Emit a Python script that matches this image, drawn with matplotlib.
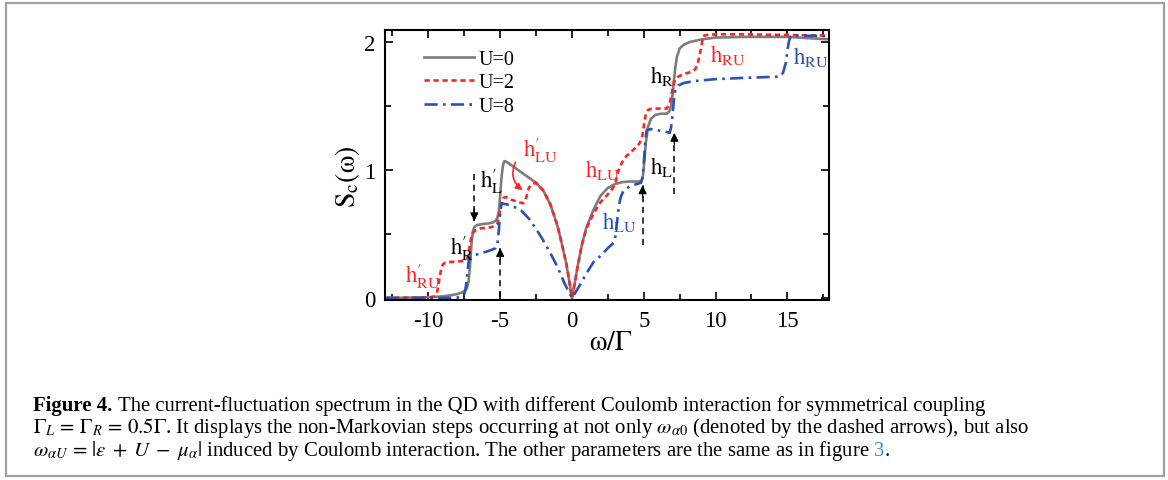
import matplotlib
matplotlib.use('Agg')
import matplotlib.pyplot as plt
from matplotlib.patches import Rectangle
from matplotlib.ticker import MultipleLocator

plt.rcParams['font.family'] = 'serif'
plt.rcParams['font.serif'] = ['Liberation Serif', 'DejaVu Serif']
plt.rcParams['mathtext.fontset'] = 'stix'
plt.rcParams['axes.unicode_minus'] = False

# ---------------- data ----------------
omega_u0 = [-13, -11, -10, -9, -8.5, -8, -7.6, -7.4, -7.3, -7.2, -7.1, -7.0, -6.9, -6.8,
            -6.6, -6.2, -5.8, -5.5, -5.3, -5.2, -5.1, -5.0, -4.9, -4.8, -4.7, -4.5, -4.0,
            -3.5, -3.0, -2.5, -2.0, -1.5, -1.0, -0.7, -0.4, -0.2, 0.0, 0.2, 0.4, 0.7, 1.0,
            1.5, 2.0, 2.5, 3.0, 3.5, 4.0, 4.5, 4.7, 4.85, 4.95, 5.05, 5.15, 5.3, 5.5, 5.8,
            6.2, 6.6, 6.8, 6.9, 7.0, 7.1, 7.2, 7.3, 7.5, 7.8, 8.2, 9, 10, 12, 15, 18]
s_u0 = [0.0, 0.003, 0.006, 0.012, 0.02, 0.03, 0.045, 0.06, 0.08, 0.13, 0.25, 0.42, 0.52, 0.555,
        0.57, 0.578, 0.582, 0.59, 0.605, 0.625, 0.67, 0.80, 0.95, 1.04, 1.07, 1.06, 1.02,
        0.98, 0.94, 0.90, 0.84, 0.73, 0.56, 0.42, 0.27, 0.14, 0.0, 0.12, 0.25, 0.42, 0.55,
        0.69, 0.80, 0.86, 0.89, 0.905, 0.91, 0.91, 0.91, 0.92, 0.96, 1.08, 1.22, 1.34, 1.40, 1.43,
        1.44, 1.44, 1.46, 1.50, 1.58, 1.70, 1.80, 1.88, 1.95, 1.98, 2.00, 2.02, 2.035, 2.04, 2.04, 2.02]

omega_u2 = [-13, -10, -9.6, -9.4, -9.3, -9.2, -9.1, -9.0, -8.85, -8.6, -8.0, -7.5, -7.3, -7.2,
            -7.1, -7.0, -6.9, -6.7, -6.3, -5.8, -5.4, -5.2, -5.1, -5.0, -4.9, -4.8, -4.6, -4.3,
            -4.0, -3.6, -3.4, -3.3, -3.2, -3.1, -3.0, -2.8, -2.5, -2.0, -1.5, -1.0, -0.7, -0.4,
            -0.2, 0.0, 0.2, 0.4, 0.7, 1.0, 1.5, 2.0, 2.5, 2.8, 3.0, 3.1, 3.2, 3.35, 3.6, 3.8,
            4.2, 4.6, 4.85, 4.95, 5.05, 5.15, 5.3, 5.6, 6.2, 6.6, 6.8, 6.9, 7.0, 7.1, 7.2, 7.4,
            7.8, 8.4, 8.6, 8.75, 8.9, 9.0, 9.1, 9.2, 9.4, 10, 12, 15, 18]
s_u2 = [0.0, 0.003, 0.01, 0.04, 0.10, 0.17, 0.23, 0.26, 0.275, 0.28, 0.285, 0.29, 0.30, 0.35,
        0.42, 0.48, 0.51, 0.53, 0.545, 0.55, 0.56, 0.58, 0.62, 0.69, 0.75, 0.78, 0.79, 0.77,
        0.76, 0.745, 0.74, 0.75, 0.78, 0.82, 0.86, 0.89, 0.90, 0.84, 0.73, 0.56, 0.42, 0.27,
        0.14, 0.0, 0.12, 0.25, 0.42, 0.54, 0.66, 0.75, 0.81, 0.85, 0.89, 0.93, 0.98, 1.03, 1.08, 1.11,
        1.15, 1.19, 1.24, 1.30, 1.38, 1.44, 1.47, 1.48, 1.48, 1.48, 1.52, 1.57, 1.63, 1.68, 1.71, 1.73,
        1.75, 1.77, 1.79, 1.83, 1.90, 1.96, 2.02, 2.05, 2.055, 2.06, 2.06, 2.055, 2.05]

omega_u8 = [-13, -8.5, -8.0, -7.7, -7.5, -7.4, -7.3, -7.2, -7.1, -6.5, -6.0, -5.5, -5.3, -5.2,
            -5.1, -5.0, -4.9, -4.5, -4.0, -3.5, -3.0, -2.5, -2.0, -1.5, -1.0, -0.5, 0.0, 0.5,
            1.0, 1.5, 2.0, 2.5, 2.9, 3.0, 3.1, 3.2, 3.3, 3.4, 3.6, 4.0, 4.5, 4.8, 4.9, 5.0,
            5.1, 5.2, 5.5, 6.0, 6.5, 6.8, 6.9, 7.0, 7.1, 7.2, 7.4, 7.8, 8.5, 10, 12, 14.5,
            14.7, 14.9, 15.0, 15.1, 15.2, 15.4, 16, 18]
s_u8 = [0.0, 0.0, 0.003, 0.01, 0.03, 0.08, 0.18, 0.28, 0.32, 0.345, 0.36, 0.38, 0.39, 0.41,
        0.52, 0.66, 0.74, 0.73, 0.71, 0.68, 0.62, 0.54, 0.45, 0.35, 0.24, 0.11, 0.0, 0.09,
        0.19, 0.28, 0.33, 0.39, 0.43, 0.46, 0.55, 0.66, 0.74, 0.79, 0.84, 0.87, 0.89, 0.90, 0.93, 1.05,
        1.22, 1.31, 1.32, 1.31, 1.30, 1.29, 1.33, 1.42, 1.55, 1.62, 1.66, 1.68, 1.695, 1.71, 1.72, 1.73,
        1.76, 1.84, 1.93, 2.0, 2.04, 2.05, 2.05, 2.045]

series_labels = ['U=0', 'U=2', 'U=8']
x_ticks = [-10, -5, 0, 5, 10, 15]
y_ticks = [0, 1, 2]

GRAY = '#7d7d7d'
RED = '#ff2424'
BLUE = '#2b52b0'

W, H = 1168, 481
fig = plt.figure(figsize=(W / 100, H / 100), dpi=100)
ax = fig.add_axes([385 / W, 1 - 301 / H, 444 / W, 270 / H])

ax.plot(omega_u0, s_u0, color=GRAY, lw=1.9, label=series_labels[0])
ax.plot(omega_u2, s_u2, color=RED, lw=1.9, ls=(0, (2, 1.4)), label=series_labels[1])
ax.plot(omega_u8, s_u8, color=BLUE, lw=1.9, ls=(0, (5, 2, 1, 2)), label=series_labels[2])

ax.set_xlim(-13.02, 17.9)
ax.set_ylim(-0.016, 2.094)
ax.set_xticks(x_ticks)
ax.set_yticks(y_ticks)
ax.xaxis.set_minor_locator(MultipleLocator(2.5))
ax.yaxis.set_minor_locator(MultipleLocator(0.5))
ax.tick_params(which='both', direction='in', top=True, right=True, width=1.2, labelsize=16.5)
ax.tick_params(which='major', length=6, pad=7)
ax.tick_params(which='minor', length=4)
for sp in ax.spines.values():
    sp.set_linewidth(1.5)

ax.set_xlabel(r'$\mathrm{\omega/\Gamma}$', fontsize=20)
ax.set_ylabel(r'$\mathrm{S_c(\omega)}$', fontsize=20)
ax.xaxis.set_label_coords(0.509, -0.11)
ax.yaxis.set_label_coords(-0.052, 0.46)

leg = ax.legend(loc='upper left', bbox_to_anchor=(0.088, 0.925), frameon=False,
                fontsize=14.5, handlelength=2.5, handletextpad=0.2, labelspacing=0.2,
                borderaxespad=0, borderpad=0)

# step labels
lab_fs = 16.5
ax.text(-11.6, 0.125, r"$\mathrm{h}^{\prime}_{\mathrm{RU}}$", color=RED, fontsize=lab_fs)
ax.text(-8.5, 0.34, r"$\mathrm{h}^{\prime}_{\mathrm{R}}$", color='k', fontsize=lab_fs)
ax.text(-6.4, 0.87, r"$\mathrm{h}^{\prime}_{\mathrm{L}}$", color='k', fontsize=lab_fs)
ax.text(-3.4, 1.11, r"$\mathrm{h}^{\prime}_{\mathrm{LU}}$", color=RED, fontsize=lab_fs)
ax.text(0.9, 0.95, r"$\mathrm{h}_{\mathrm{LU}}$", color=RED, fontsize=lab_fs)
ax.text(2.1, 0.55, r"$\mathrm{h}_{\mathrm{LU}}$", color=BLUE, fontsize=lab_fs)
ax.text(5.45, 0.98, r"$\mathrm{h}_{\mathrm{L}}$", color='k', fontsize=lab_fs)
ax.text(5.45, 1.69, r"$\mathrm{h}_{\mathrm{R}}$", color='k', fontsize=lab_fs)
ax.text(9.6, 1.85, r"$\mathrm{h}_{\mathrm{RU}}$", color=RED, fontsize=lab_fs)
ax.text(15.4, 1.84, r"$\mathrm{h}_{\mathrm{RU}}$", color=BLUE, fontsize=lab_fs)

# red curved arrow
ax.annotate('', xy=(-3.27, 0.83), xytext=(-3.85, 1.08),
            arrowprops=dict(arrowstyle='-|>', color=RED, lw=1.2,
                            connectionstyle='arc3,rad=0.45', mutation_scale=10))

# dashed arrows (x, y_start, y_end)
def dashed_arrow(x, y0, y1):
    ax.plot([x, x], [y0, y1], color='k', lw=1.1, ls=(0, (4, 3)))
    d = 0.09 if y1 > y0 else -0.09
    ax.annotate('', xy=(x, y1), xytext=(x, y1 - d),
                arrowprops=dict(arrowstyle='-|>', color='k', lw=1.0, mutation_scale=12,
                                shrinkA=0, shrinkB=0))

dashed_arrow(-6.8, 0.97, 0.60)
dashed_arrow(-5.0, 0.005, 0.39)
dashed_arrow(4.92, 0.41, 0.88)
dashed_arrow(7.13, 0.81, 1.29)

# border
fig.patches.append(Rectangle((6 / W, 1 - 477 / H), (1164 - 6) / W, (477 - 4) / H,
                             transform=fig.transFigure, fill=False, ec='#a0a0a0', lw=1.6))

# caption
renderer = fig.canvas.get_renderer()
x_left = 33
line1_rest = ("The current-fluctuation spectrum in the QD with different Coulomb "
              "interaction for symmetrical coupling")
line2 = (r"$\Gamma_L\,=\,\Gamma_R\,=\,0.5\Gamma$. It displays the non-Markovian steps occurring "
         r"at not only $\omega_{\alpha 0}$ (denoted by the dashed arrows), but also")
line3 = (r"$\omega_{\alpha U}\,=\,|\varepsilon\;+\;U\;-\;\mu_{\alpha}|$ induced by Coulomb "
         r"interaction. The other parameters are the same as in figure")

def put(xpx, ybase, s, fs, **kw):
    t = fig.text(xpx / W, 1 - ybase / H, s, fontsize=fs, ha='left', va='baseline', **kw)
    return t, t.get_window_extent(renderer)

# fit font size so that line 1 spans 33 -> 989 px
fs = 13.5
t1, b1 = put(x_left, 411, "Figure 4.", fs, fontweight='bold')
t2, b2 = put(b1.x1 + 5, 411, line1_rest, fs)
scale = (989 - x_left) / (b2.x1 - x_left)
t1.remove(); t2.remove()
fs = fs * scale
t1, b1 = put(x_left, 411, "Figure 4.", fs, fontweight='bold')
t2, b2 = put(b1.x1 + 5 * scale, 411, line1_rest, fs)
put(x_left, 433.5, line2, fs)
t3, b3 = put(x_left, 456, line3, fs)
t4, b4 = put(b3.x1 + 4 * scale, 456, "3", fs, color='#2a8fd0')
put(b4.x1, 456, ".", fs)

fig.savefig('out.png', dpi=100)
